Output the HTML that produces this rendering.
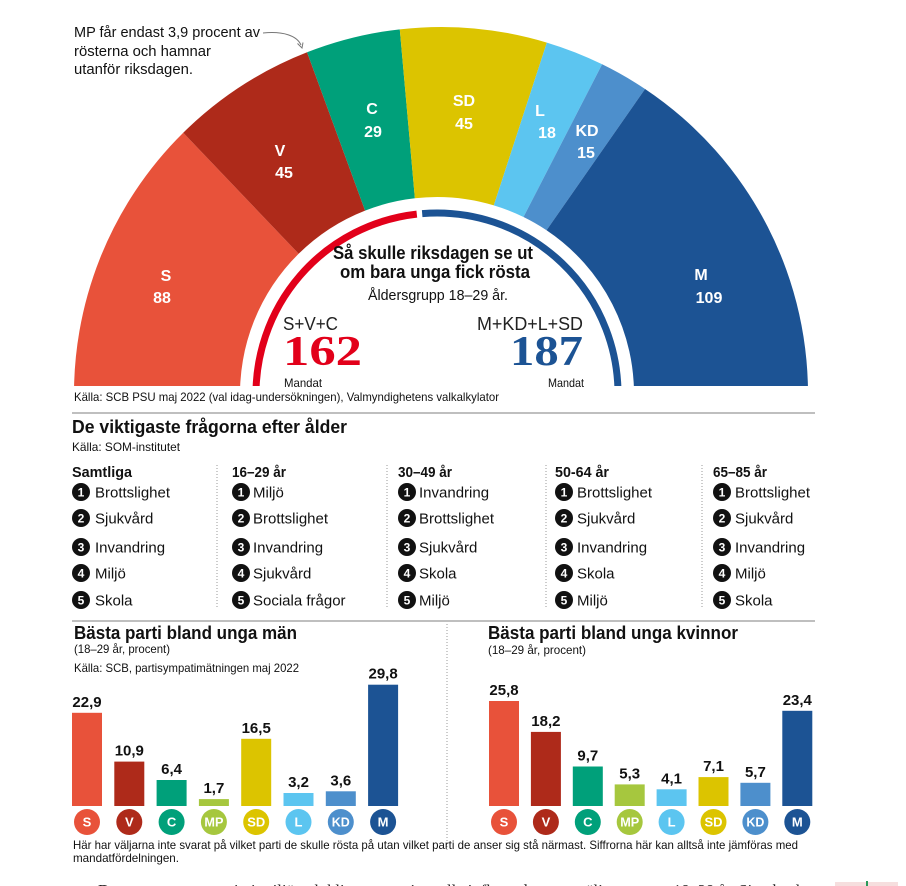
<!DOCTYPE html>
<html>
<head>
<meta charset="utf-8">
<style>
html,body{margin:0;padding:0;background:#fff;}
body{width:906px;height:886px;overflow:hidden;}
svg{display:block;}
text{font-family:"Liberation Sans","DejaVu Sans",sans-serif;}
.w{fill:#fff;font-weight:bold;font-size:16px;text-anchor:middle;}
.hd{font-weight:bold;font-size:15px;fill:#111;}
.it{font-size:15px;fill:#111;}
.nm{fill:#fff;font-weight:bold;font-size:12px;text-anchor:middle;}
.val{font-weight:bold;font-size:15px;fill:#111;text-anchor:middle;}
.pl{fill:#fff;font-weight:bold;font-size:13px;text-anchor:middle;}
</style>
</head>
<body>
<svg width="906" height="886" viewBox="0 0 906 886" xmlns="http://www.w3.org/2000/svg">
<defs>
<clipPath id="cl"><rect x="0" y="0" width="906" height="386"/></clipPath>
</defs>

<!-- Semicircle -->
<g clip-path="url(#cl)">
<path fill="#e8523a" d="M74.22,406.81 A367,367 0 0 1 183.24,132.74 L298.64,253.76 A197,197 0 0 0 240.12,400.88 Z"/>
<path fill="#ae2a1a" d="M183.24,132.74 A367,367 0 0 1 307.06,52.29 L365.10,210.58 A197,197 0 0 0 298.64,253.76 Z"/>
<path fill="#00a07a" d="M307.06,52.29 A367,367 0 0 1 399.79,29.32 L414.88,198.25 A197,197 0 0 0 365.10,210.58 Z"/>
<path fill="#dcc400" d="M399.79,29.32 A367,367 0 0 1 546.84,42.59 L493.81,205.37 A197,197 0 0 0 414.88,198.25 Z"/>
<path fill="#5cc5f0" d="M546.84,42.59 A367,367 0 0 1 602.15,64.27 L523.50,217.01 A197,197 0 0 0 493.81,205.37 Z"/>
<path fill="#4d8fcc" d="M602.15,64.27 A367,367 0 0 1 645.07,88.97 L546.54,230.26 A197,197 0 0 0 523.50,217.01 Z"/>
<path fill="#1c5394" d="M645.07,88.97 A367,367 0 0 1 807.78,406.81 L633.88,400.88 A197,197 0 0 0 546.54,230.26 Z"/>
<path fill="none" stroke="#e2001a" stroke-width="7" d="M256.11,400.32 A181,181 0 0 1 416.8,214.13"/>
<path fill="none" stroke="#1c5394" stroke-width="7" d="M422.17,213.61 A181,181 0 0 1 617.89,400.32"/>
</g>

<text class="w" x="166" y="281">S</text>
<text class="w" x="162" y="303">88</text>
<text class="w" x="280" y="156">V</text>
<text class="w" x="284" y="178">45</text>
<text class="w" x="372" y="114">C</text>
<text class="w" x="373" y="137">29</text>
<text class="w" x="464" y="106">SD</text>
<text class="w" x="464" y="129">45</text>
<text class="w" x="540" y="116">L</text>
<text class="w" x="547" y="138">18</text>
<text class="w" x="587" y="136">KD</text>
<text class="w" x="586" y="158">15</text>
<text class="w" x="701" y="280">M</text>
<text class="w" x="709" y="303">109</text>

<!-- annotation -->
<text x="74" y="37" font-size="14.5" fill="#111" textLength="186" lengthAdjust="spacingAndGlyphs">MP får endast 3,9 procent av</text>
<text x="74" y="56" font-size="14.5" fill="#111" textLength="137" lengthAdjust="spacingAndGlyphs">rösterna och hamnar</text>
<text x="74" y="74" font-size="14.5" fill="#111" textLength="119" lengthAdjust="spacingAndGlyphs">utanför riksdagen.</text>
<path d="M263,33 C284,31 297,36 301,45" fill="none" stroke="#777" stroke-width="1"/>
<path d="M297.5,43.5 L302,48 L303,42.5" fill="none" stroke="#777" stroke-width="1"/>

<!-- center text -->
<text x="433" y="259" font-size="18" font-weight="bold" fill="#111" text-anchor="middle" textLength="200" lengthAdjust="spacingAndGlyphs">Så skulle riksdagen se ut</text>
<text x="435" y="278" font-size="18" font-weight="bold" fill="#111" text-anchor="middle" textLength="190" lengthAdjust="spacingAndGlyphs">om bara unga fick rösta</text>
<text x="438" y="300" font-size="15" fill="#111" text-anchor="middle" textLength="140" lengthAdjust="spacingAndGlyphs">Åldersgrupp 18–29 år.</text>

<text x="283" y="330" font-size="18" fill="#222" textLength="55" lengthAdjust="spacingAndGlyphs">S+V+C</text>
<text x="283" y="365" font-size="42" font-weight="bold" fill="#e2001a" style="font-family:'Liberation Serif',serif" textLength="79" lengthAdjust="spacingAndGlyphs">162</text>
<text x="284" y="387" font-size="12" fill="#111" textLength="38" lengthAdjust="spacingAndGlyphs">Mandat</text>

<text x="477" y="330" font-size="18" fill="#222" textLength="106" lengthAdjust="spacingAndGlyphs">M+KD+L+SD</text>
<text x="510" y="365" font-size="42" font-weight="bold" fill="#1c5394" style="font-family:'Liberation Serif',serif" textLength="73" lengthAdjust="spacingAndGlyphs">187</text>
<text x="548" y="387" font-size="12" fill="#111" textLength="36" lengthAdjust="spacingAndGlyphs">Mandat</text>

<text x="74" y="401" font-size="12" fill="#111" textLength="425" lengthAdjust="spacingAndGlyphs">Källa: SCB PSU maj 2022 (val idag-undersökningen), Valmyndighetens valkalkylator</text>

<!-- middle section -->
<line x1="72" y1="413" x2="815" y2="413" stroke="#aaa" stroke-width="1.5"/>
<text x="72" y="433" font-size="18" font-weight="bold" fill="#111" textLength="275" lengthAdjust="spacingAndGlyphs">De viktigaste frågorna efter ålder</text>
<text x="72" y="451" font-size="12" fill="#111" textLength="108" lengthAdjust="spacingAndGlyphs">Källa: SOM-institutet</text>

<g stroke="#999" stroke-width="1" stroke-dasharray="1,2">
<line x1="217" y1="465" x2="217" y2="608"/>
<line x1="387" y1="465" x2="387" y2="608"/>
<line x1="546" y1="465" x2="546" y2="608"/>
<line x1="702" y1="465" x2="702" y2="608"/>
</g>

<text class="hd" x="72" y="477" textLength="60" lengthAdjust="spacingAndGlyphs">Samtliga</text>
<text class="hd" x="232" y="477" textLength="54" lengthAdjust="spacingAndGlyphs">16–29 år</text>
<text class="hd" x="398" y="477" textLength="54" lengthAdjust="spacingAndGlyphs">30–49 år</text>
<text class="hd" x="555" y="477" textLength="54" lengthAdjust="spacingAndGlyphs">50-64 år</text>
<text class="hd" x="713" y="477" textLength="54" lengthAdjust="spacingAndGlyphs">65–85 år</text>

<!-- number circles -->
<g fill="#111">
<circle cx="81" cy="492" r="9"/><circle cx="81" cy="518" r="9"/><circle cx="81" cy="547" r="9"/><circle cx="81" cy="573" r="9"/><circle cx="81" cy="600" r="9"/>
<circle cx="241" cy="492" r="9"/><circle cx="241" cy="518" r="9"/><circle cx="241" cy="547" r="9"/><circle cx="241" cy="573" r="9"/><circle cx="241" cy="600" r="9"/>
<circle cx="407" cy="492" r="9"/><circle cx="407" cy="518" r="9"/><circle cx="407" cy="547" r="9"/><circle cx="407" cy="573" r="9"/><circle cx="407" cy="600" r="9"/>
<circle cx="564" cy="492" r="9"/><circle cx="564" cy="518" r="9"/><circle cx="564" cy="547" r="9"/><circle cx="564" cy="573" r="9"/><circle cx="564" cy="600" r="9"/>
<circle cx="722" cy="492" r="9"/><circle cx="722" cy="518" r="9"/><circle cx="722" cy="547" r="9"/><circle cx="722" cy="573" r="9"/><circle cx="722" cy="600" r="9"/>
</g>
<g>
<text class="nm" x="81" y="496.3">1</text><text class="nm" x="81" y="522.3">2</text><text class="nm" x="81" y="551.3">3</text><text class="nm" x="81" y="577.3">4</text><text class="nm" x="81" y="604.3">5</text>
<text class="nm" x="241" y="496.3">1</text><text class="nm" x="241" y="522.3">2</text><text class="nm" x="241" y="551.3">3</text><text class="nm" x="241" y="577.3">4</text><text class="nm" x="241" y="604.3">5</text>
<text class="nm" x="407" y="496.3">1</text><text class="nm" x="407" y="522.3">2</text><text class="nm" x="407" y="551.3">3</text><text class="nm" x="407" y="577.3">4</text><text class="nm" x="407" y="604.3">5</text>
<text class="nm" x="564" y="496.3">1</text><text class="nm" x="564" y="522.3">2</text><text class="nm" x="564" y="551.3">3</text><text class="nm" x="564" y="577.3">4</text><text class="nm" x="564" y="604.3">5</text>
<text class="nm" x="722" y="496.3">1</text><text class="nm" x="722" y="522.3">2</text><text class="nm" x="722" y="551.3">3</text><text class="nm" x="722" y="577.3">4</text><text class="nm" x="722" y="604.3">5</text>
</g>

<text class="it" x="95" y="497.4">Brottslighet</text>
<text class="it" x="95" y="523.4">Sjukvård</text>
<text class="it" x="95" y="552.4">Invandring</text>
<text class="it" x="95" y="578.4">Miljö</text>
<text class="it" x="95" y="605.4">Skola</text>

<text class="it" x="253" y="497.4">Miljö</text>
<text class="it" x="253" y="523.4">Brottslighet</text>
<text class="it" x="253" y="552.4">Invandring</text>
<text class="it" x="253" y="578.4">Sjukvård</text>
<text class="it" x="253" y="605.4">Sociala frågor</text>

<text class="it" x="419" y="497.4">Invandring</text>
<text class="it" x="419" y="523.4">Brottslighet</text>
<text class="it" x="419" y="552.4">Sjukvård</text>
<text class="it" x="419" y="578.4">Skola</text>
<text class="it" x="419" y="605.4">Miljö</text>

<text class="it" x="577" y="497.4">Brottslighet</text>
<text class="it" x="577" y="523.4">Sjukvård</text>
<text class="it" x="577" y="552.4">Invandring</text>
<text class="it" x="577" y="578.4">Skola</text>
<text class="it" x="577" y="605.4">Miljö</text>

<text class="it" x="735" y="497.4">Brottslighet</text>
<text class="it" x="735" y="523.4">Sjukvård</text>
<text class="it" x="735" y="552.4">Invandring</text>
<text class="it" x="735" y="578.4">Miljö</text>
<text class="it" x="735" y="605.4">Skola</text>

<!-- bottom charts -->
<line x1="72" y1="621" x2="815" y2="621" stroke="#aaa" stroke-width="1.5"/>
<line x1="447" y1="624" x2="447" y2="852" stroke="#999" stroke-width="1" stroke-dasharray="1,2"/>

<text x="74" y="639" font-size="18" font-weight="bold" fill="#111" textLength="223" lengthAdjust="spacingAndGlyphs">Bästa parti bland unga män</text>
<text x="74" y="653" font-size="12" fill="#111" textLength="96" lengthAdjust="spacingAndGlyphs">(18–29 år, procent)</text>
<text x="74" y="672" font-size="12" fill="#111" textLength="225" lengthAdjust="spacingAndGlyphs">Källa: SCB, partisympatimätningen maj 2022</text>

<text x="488" y="639" font-size="18" font-weight="bold" fill="#111" textLength="250" lengthAdjust="spacingAndGlyphs">Bästa parti bland unga kvinnor</text>
<text x="488" y="654" font-size="12" fill="#111" textLength="98" lengthAdjust="spacingAndGlyphs">(18–29 år, procent)</text>

<!-- left bars -->
<rect x="72" y="712.8" width="30" height="93.2" fill="#e8523a"/>
<rect x="114.3" y="761.6" width="30" height="44.4" fill="#ae2a1a"/>
<rect x="156.6" y="780" width="30" height="26" fill="#00a07a"/>
<rect x="198.9" y="799.1" width="30" height="6.9" fill="#a6c73e"/>
<rect x="241.2" y="738.8" width="30" height="67.2" fill="#dcc400"/>
<rect x="283.5" y="793" width="30" height="13" fill="#5cc5f0"/>
<rect x="325.8" y="791.3" width="30" height="14.7" fill="#4d8fcc"/>
<rect x="368.1" y="684.7" width="30" height="121.3" fill="#1c5394"/>

<text class="val" x="87" y="706.8">22,9</text>
<text class="val" x="129.3" y="755.6">10,9</text>
<text class="val" x="171.6" y="774">6,4</text>
<text class="val" x="213.9" y="793.1">1,7</text>
<text class="val" x="256.2" y="732.8">16,5</text>
<text class="val" x="298.5" y="787">3,2</text>
<text class="val" x="340.8" y="785.3">3,6</text>
<text class="val" x="383.1" y="678.7">29,8</text>

<circle cx="87" cy="822" r="13" fill="#e8523a"/>
<circle cx="129.3" cy="822" r="13" fill="#ae2a1a"/>
<circle cx="171.6" cy="822" r="13" fill="#00a07a"/>
<circle cx="213.9" cy="822" r="13" fill="#a6c73e"/>
<circle cx="256.2" cy="822" r="13" fill="#dcc400"/>
<circle cx="298.5" cy="822" r="13" fill="#5cc5f0"/>
<circle cx="340.8" cy="822" r="13" fill="#4d8fcc"/>
<circle cx="383.1" cy="822" r="13" fill="#1c5394"/>
<text class="pl" x="87" y="826.5">S</text>
<text class="pl" x="129.3" y="826.5">V</text>
<text class="pl" x="171.6" y="826.5">C</text>
<text class="pl" x="213.9" y="826.5" textLength="19" lengthAdjust="spacingAndGlyphs">MP</text>
<text class="pl" x="256.2" y="826.5" textLength="18" lengthAdjust="spacingAndGlyphs">SD</text>
<text class="pl" x="298.5" y="826.5">L</text>
<text class="pl" x="340.8" y="826.5" textLength="18" lengthAdjust="spacingAndGlyphs">KD</text>
<text class="pl" x="383.1" y="826.5">M</text>

<!-- right bars -->
<rect x="489" y="701" width="30" height="105" fill="#e8523a"/>
<rect x="530.9" y="731.9" width="30" height="74.1" fill="#ae2a1a"/>
<rect x="572.8" y="766.5" width="30" height="39.5" fill="#00a07a"/>
<rect x="614.7" y="784.4" width="30" height="21.6" fill="#a6c73e"/>
<rect x="656.6" y="789.3" width="30" height="16.7" fill="#5cc5f0"/>
<rect x="698.5" y="777.1" width="30" height="28.9" fill="#dcc400"/>
<rect x="740.4" y="782.8" width="30" height="23.2" fill="#4d8fcc"/>
<rect x="782.3" y="710.8" width="30" height="95.2" fill="#1c5394"/>

<text class="val" x="504" y="695">25,8</text>
<text class="val" x="545.9" y="725.9">18,2</text>
<text class="val" x="587.8" y="760.5">9,7</text>
<text class="val" x="629.7" y="778.4">5,3</text>
<text class="val" x="671.6" y="783.3">4,1</text>
<text class="val" x="713.5" y="771.1">7,1</text>
<text class="val" x="755.4" y="776.8">5,7</text>
<text class="val" x="797.3" y="704.8">23,4</text>

<circle cx="504" cy="822" r="13" fill="#e8523a"/>
<circle cx="545.9" cy="822" r="13" fill="#ae2a1a"/>
<circle cx="587.8" cy="822" r="13" fill="#00a07a"/>
<circle cx="629.7" cy="822" r="13" fill="#a6c73e"/>
<circle cx="671.6" cy="822" r="13" fill="#5cc5f0"/>
<circle cx="713.5" cy="822" r="13" fill="#dcc400"/>
<circle cx="755.4" cy="822" r="13" fill="#4d8fcc"/>
<circle cx="797.3" cy="822" r="13" fill="#1c5394"/>
<text class="pl" x="504" y="826.5">S</text>
<text class="pl" x="545.9" y="826.5">V</text>
<text class="pl" x="587.8" y="826.5">C</text>
<text class="pl" x="629.7" y="826.5" textLength="19" lengthAdjust="spacingAndGlyphs">MP</text>
<text class="pl" x="671.6" y="826.5">L</text>
<text class="pl" x="713.5" y="826.5" textLength="18" lengthAdjust="spacingAndGlyphs">SD</text>
<text class="pl" x="755.4" y="826.5" textLength="18" lengthAdjust="spacingAndGlyphs">KD</text>
<text class="pl" x="797.3" y="826.5">M</text>

<!-- footer -->
<text x="73" y="849" font-size="12" fill="#111" textLength="725" lengthAdjust="spacingAndGlyphs">Här har väljarna inte svarat på vilket parti de skulle rösta på utan vilket parti de anser sig stå närmast. Siffrorna här kan alltså inte jämföras med</text>
<text x="73" y="862" font-size="12" fill="#111" textLength="106" lengthAdjust="spacingAndGlyphs">mandatfördelningen.</text>

<text x="98" y="897" font-size="18" fill="#222" style="font-family:'Liberation Serif',serif" textLength="437" lengthAdjust="spacingAndGlyphs">De unga engagerar sig i miljö och klimat, men inte alla inflytande</text>
<text x="578" y="897" font-size="18" fill="#222" style="font-family:'Liberation Serif',serif" textLength="235" lengthAdjust="spacingAndGlyphs">väljargruppen 18–29 år. Sitt absolut</text>
<rect x="835" y="882" width="63" height="4" fill="#f6dede"/>
<rect x="866" y="881" width="2" height="5" fill="#2a9a5a"/>
</svg>
</body>
</html>
